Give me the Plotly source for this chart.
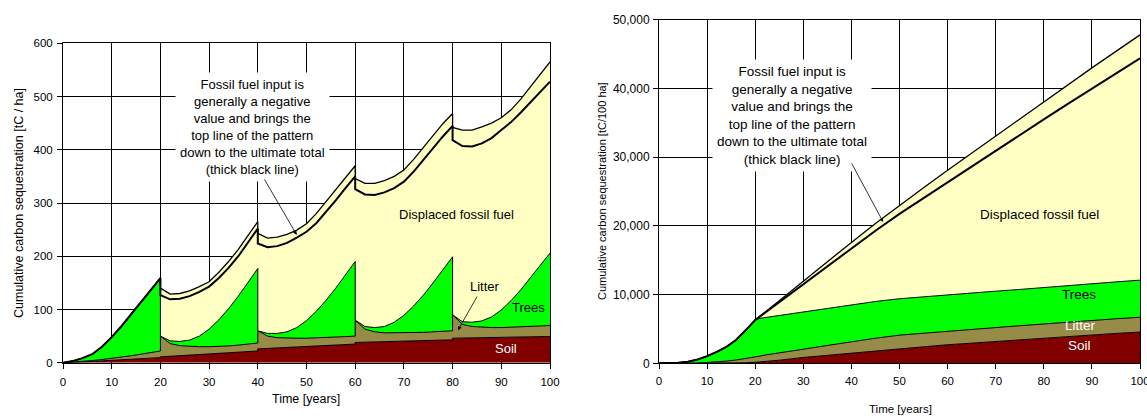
import plotly.graph_objects as go

# ---------------- Left chart data (tC / ha) ----------------
years_left = [0, 2, 4, 6, 8, 10, 12, 14, 16, 18, 20,
              20, 22, 24, 26, 28, 30, 32, 34, 36, 38, 40,
              40, 42, 44, 46, 48, 50, 52, 54, 56, 58, 60,
              60, 62, 64, 66, 68, 70, 72, 74, 76, 78, 80,
              80, 82, 84, 86, 88, 90, 92, 94, 96, 98, 100]
soil_left = [0, 0.5, 1.5, 2.5, 3.5, 4.5, 5.5, 6.5, 7.5, 8.5, 9.5,
             11, 12, 13, 14, 15, 16, 17, 18.5, 19.5, 20.5, 22,
             26, 27, 28, 28.5, 29.5, 30.5, 31.5, 32, 33, 34, 35,
             38, 38.5, 39, 39.5, 40, 40.5, 41, 41.5, 42, 42.5, 43,
             46, 46.3, 46.6, 47, 47.3, 47.6, 48, 48.3, 48.6, 49, 49.3]
litter_top_left = [0, 1, 2.5, 4, 6, 8, 10.5, 13, 16, 19, 22,
                   50, 36, 32, 30.5, 30, 30, 30.5, 31.5, 33, 35, 37,
                   60, 50, 47, 46, 46, 46, 46.5, 47, 48, 49, 50,
                   80, 63, 58, 56, 56, 56, 56.5, 57, 58, 59, 60,
                   90, 72, 68, 66.5, 66, 66, 66.5, 67, 68, 69, 70]
trees_top_left = [0, 3, 8.5, 16, 30, 48, 68.5, 91, 115, 138, 159,
                  50, 41, 40, 42.5, 50, 63, 80.5, 101.5, 125, 151, 177,
                  60, 55, 55, 58, 66, 79, 96.5, 117, 140, 165, 190,
                  80, 68, 66, 68, 76, 89, 106.5, 127, 150, 175, 199,
                  90, 77, 76, 78.5, 86, 99, 116.5, 137, 160, 184, 206]
upper_left = [0, 3, 8.5, 16, 30, 48, 68.5, 91, 115, 138, 159,
              140, 129, 130, 135, 143, 152, 170, 190, 213, 240, 265,
              243, 234, 236, 241, 249, 261, 280, 303, 326, 348, 370,
              346, 337, 337, 342, 350, 362, 382, 405, 428, 449, 468,
              442, 437, 437, 443, 450, 460, 475, 495, 518, 542, 565]
net_left = [0, 3, 8.5, 16, 30, 48, 68.5, 91, 115, 138, 159,
            127, 119, 120, 125, 133, 143, 159, 178, 200, 226, 252,
            224, 217, 219, 225, 235, 246, 262, 283, 305, 328, 350,
            326, 316, 315, 320, 328, 340, 359, 381, 404, 425, 445,
            418, 407, 406, 412, 422, 437, 452, 470, 490, 509, 528]

# ---------------- Right chart data (tC / 100 ha) ----------------
years_right = [0, 2, 4, 6, 8, 10, 12, 14, 16, 18, 20, 21, 22, 25, 30, 35, 40,
               45, 50, 55, 60, 65, 70, 75, 80, 85, 90, 95, 100]
soil_right = [0, 0, 0, 1, 2, 5, 10, 20, 40, 80, 150, 200, 260, 450, 850, 1180, 1500,
              1800, 2100, 2400, 2700, 2950, 3200, 3450, 3700, 3930, 4150, 4350, 4550]
litter_top_right = [0, 2, 8, 20, 50, 120, 200, 320, 480, 680, 900, 1050, 1200, 1550, 2050,
                    2600, 3150, 3650, 4100, 4400, 4650, 4930, 5200, 5470, 5750, 6000,
                    6250, 6480, 6700]
trees_top_right = [0, 20, 80, 230, 550, 1050, 1650, 2400, 3400, 4800, 6300, 6550, 6650,
                   7000, 7500, 8000, 8500, 9000, 9400, 9700, 10000, 10250, 10500, 10750,
                   11050, 11300, 11600, 11850, 12100]
upper_right = [0, 20, 80, 230, 550, 1050, 1650, 2400, 3400, 4800, 6300, 6850, 7400,
               9100, 11950, 14800, 17600, 20350, 23000, 25550, 28100, 30600, 33100,
               35600, 38100, 40550, 43000, 45400, 47800]
net_right = [0, 20, 80, 230, 550, 1050, 1650, 2400, 3400, 4800, 6300, 6830, 7350,
             8950, 11550, 14150, 16750, 19300, 21750, 24050, 26400, 28700, 30950,
             33250, 35500, 37750, 40000, 42200, 44400]

x_ticks = [0, 10, 20, 30, 40, 50, 60, 70, 80, 90, 100]

note_text = ("Fossil fuel input is<br>generally a negative<br>value and brings the<br>"
             "top line of the pattern<br>down to the ultimate total<br>(thick black line)")

C_SOIL = "#800000"
C_LITTER = "#968C48"
C_TREES = "#00FF00"
C_FOSSIL = "#FFFFC4"
FONT = "Liberation Sans, Arial, sans-serif"

fig = go.Figure()


def add_stack(x, soil, litter, trees, upper, net, xa, ya):
    fig.add_trace(go.Scatter(x=x, y=soil, mode="lines", fill="tozeroy",
                             fillcolor=C_SOIL, line=dict(color="black", width=1),
                             xaxis=xa, yaxis=ya, showlegend=False, hoverinfo="skip"))
    fig.add_trace(go.Scatter(x=x, y=litter, mode="lines", fill="tonexty",
                             fillcolor=C_LITTER, line=dict(color="black", width=1),
                             xaxis=xa, yaxis=ya, showlegend=False, hoverinfo="skip"))
    fig.add_trace(go.Scatter(x=x, y=trees, mode="lines", fill="tonexty",
                             fillcolor=C_TREES, line=dict(color="black", width=1),
                             xaxis=xa, yaxis=ya, showlegend=False, hoverinfo="skip"))
    fig.add_trace(go.Scatter(x=x, y=upper, mode="lines", fill="tonexty",
                             fillcolor=C_FOSSIL, line=dict(color="black", width=1.3),
                             xaxis=xa, yaxis=ya, showlegend=False, hoverinfo="skip"))
    fig.add_trace(go.Scatter(x=x, y=net, mode="lines",
                             line=dict(color="black", width=2),
                             xaxis=xa, yaxis=ya, showlegend=False, hoverinfo="skip"))


add_stack(years_left, soil_left, litter_top_left, trees_top_left, upper_left, net_left, "x", "y")
add_stack(years_right, soil_right, litter_top_right, trees_top_right, upper_right, net_right, "x2", "y2")

W, H = 1147, 416
axis_common = dict(showline=True, linecolor="black", linewidth=1, mirror=True,
                   showgrid=True, gridcolor="black", gridwidth=1, zeroline=False,
                   ticks="outside", ticklen=5, tickcolor="black", automargin=False,
                   ticklabeloverflow="allow",
                   tickfont=dict(family=FONT, size=11.5, color="black"))

fig.update_layout(
    width=W, height=H, margin=dict(l=0, r=0, t=0, b=0, pad=0),
    paper_bgcolor="white", plot_bgcolor="white",
    font=dict(family=FONT, color="black"),
    xaxis=dict(domain=[63 / W, 550 / W], range=[0, 100], tickvals=x_ticks,
               anchor="y", ticklabelstandoff=3, **axis_common),
    yaxis=dict(domain=[(H - 362.7) / H, (H - 43.3) / H], range=[0, 600], dtick=100,
               anchor="x", ticklabelstandoff=2, **axis_common),
    xaxis2=dict(domain=[659 / W, 1140 / W], range=[0, 100], tickvals=x_ticks,
                anchor="y2", ticklabelstandoff=2, **axis_common),
    yaxis2=dict(domain=[(H - 363.3) / H, (H - 19.8) / H], range=[0, 50000], dtick=10000,
                tickformat=",d", anchor="x2", ticklabelstandoff=1, **axis_common),
)
fig.update_layout(yaxis2_tickfont_size=12)

ann = []
# axis titles
ann.append(dict(text="Cumulative carbon sequestration [tC / ha]", xref="paper", yref="paper",
                x=19 / W, y=(H - 203) / H, textangle=-90, showarrow=False,
                font=dict(size=12.5), xanchor="center", yanchor="middle"))
ann.append(dict(text="Time [years]", xref="paper", yref="paper",
                x=306 / W, y=(H - 399) / H, showarrow=False,
                font=dict(size=12.5), xanchor="center", yanchor="middle"))
ann.append(dict(text="Cumulative carbon sequestration [tC/100 ha]", xref="paper", yref="paper",
                x=602 / W, y=(H - 191) / H, textangle=-90, showarrow=False,
                font=dict(size=11), xanchor="center", yanchor="middle"))
ann.append(dict(text="Time [years]", xref="paper", yref="paper",
                x=900 / W, y=(H - 408.5) / H, showarrow=False,
                font=dict(size=11.5), xanchor="center", yanchor="middle"))

# left chart notes
ann.append(dict(text=note_text, xref="x", yref="y", x=39.0, y=443, showarrow=False,
                bgcolor="white", borderpad=4, font=dict(size=13), align="center"))
ann.append(dict(text="", xref="x", yref="y", x=48.0, y=240, axref="x", ayref="y",
                ax=41.2, ay=347, showarrow=True, arrowhead=2, arrowsize=1,
                arrowwidth=0.8, arrowcolor="black"))
ann.append(dict(text="Displaced fossil fuel", xref="x", yref="y", x=80.7, y=279,
                showarrow=False, font=dict(size=13)))
ann.append(dict(text="Litter", xref="x", yref="y", x=86.6, y=143,
                showarrow=False, font=dict(size=13)))
ann.append(dict(text="", xref="x", yref="y", x=81.1, y=61, axref="x", ayref="y",
                ax=85.2, ay=127, showarrow=True, arrowhead=2, arrowsize=1,
                arrowwidth=0.8, arrowcolor="black"))
ann.append(dict(text="Trees", xref="x", yref="y", x=95.6, y=104,
                showarrow=False, font=dict(size=13)))
ann.append(dict(text="Soil", xref="x", yref="y", x=90.9, y=26,
                showarrow=False, font=dict(size=13, color="white")))

# right chart notes
ann.append(dict(text=note_text, xref="x2", yref="y2", x=27.6, y=36140, showarrow=False,
                bgcolor="white", borderpad=4, font=dict(size=13.5), align="center"))
ann.append(dict(text="", xref="x2", yref="y2", x=46.6, y=20570, axref="x2", ayref="y2",
                ax=39.9, ay=29300, showarrow=True, arrowhead=2, arrowsize=1,
                arrowwidth=0.8, arrowcolor="black"))
ann.append(dict(text="Displaced fossil fuel", xref="x2", yref="y2", x=79.2, y=21590,
                showarrow=False, font=dict(size=13.5)))
ann.append(dict(text="Trees", xref="x2", yref="y2", x=87.3, y=10040,
                showarrow=False, font=dict(size=13.5)))
ann.append(dict(text="Litter", xref="x2", yref="y2", x=87.7, y=5480,
                showarrow=False, font=dict(size=13.5, color="white")))
ann.append(dict(text="Soil", xref="x2", yref="y2", x=87.5, y=2570,
                showarrow=False, font=dict(size=13.5, color="white")))

fig.update_layout(annotations=ann)
fig.write_html("out.html", config={"displayModeBar": False},
               post_script="document.body.style.margin='0';document.body.style.overflow='hidden';")
